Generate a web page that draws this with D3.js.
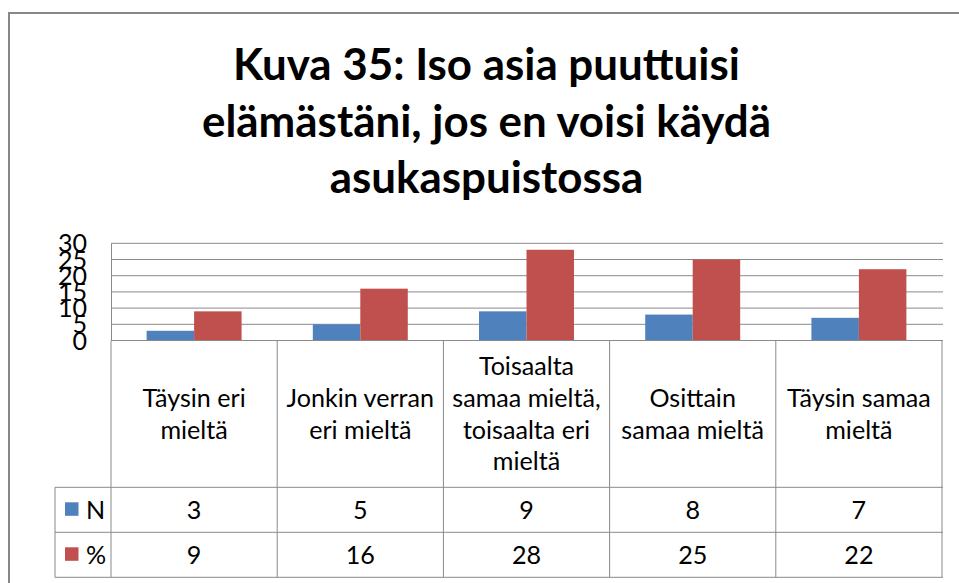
<!DOCTYPE html>
<html>
<head>
<meta charset="utf-8">
<script src="https://cdn.jsdelivr.net/npm/d3@7"></script>
<style>
  html, body { margin: 0; padding: 0; background: #fff; }
  svg { display: block; }
  text { font-family: Lato, "Noto Sans", sans-serif; fill: #000; }
</style>
</head>
<body>
<svg id="chart" width="959" height="583"></svg>
<script>
// ---- data ----
const titleLines = ["Kuva 35: Iso asia puuttuisi", "elämästäni, jos en voisi käydä", "asukaspuistossa"];
const categories = [
  "Täysin eri mieltä",
  "Jonkin verran eri mieltä",
  "Toisaalta samaa mieltä, toisaalta eri mieltä",
  "Osittain samaa mieltä",
  "Täysin samaa mieltä"
];
const categoryLines = [
  ["Täysin eri", "mieltä"],
  ["Jonkin verran", "eri mieltä"],
  ["Toisaalta", "samaa mieltä,", "toisaalta eri", "mieltä"],
  ["Osittain", "samaa mieltä"],
  ["Täysin samaa", "mieltä"]
];
const seriesNames = ["N", "%"];
const valuesN = [3, 5, 9, 8, 7];
const valuesPct = [9, 16, 28, 25, 22];
const yTicks = [0, 5, 10, 15, 20, 25, 30];
const seriesColors = ["#4F81BD", "#C0504D"];

const series = [valuesN, valuesPct];

// ---- layout ----
const svg = d3.select("#chart");
const gridColor = "#8a8a8a";
const plot = { left: 111, right: 942, top: 243.3, bottom: 340.5 };
const table = { labelLeft: 55, catBottom: 487.3, rowH: 45 };

// outer chart frame
svg.append("rect")
  .attr("x", 9).attr("y", 13).attr("width", 955).attr("height", 620)
  .attr("fill", "#fff").attr("stroke", "#878787").attr("stroke-width", 2);

// fit a font size so a reference string reaches a given width
function fitSize(sample, weight, baseSize, targetWidth) {
  const t = svg.append("text").attr("font-size", baseSize).attr("font-weight", weight).text(sample);
  const w = t.node().getComputedTextLength();
  t.remove();
  return baseSize * targetWidth / w;
}
const titleSize = fitSize(titleLines[0], "bold", 46.5, 507);
const bodySize = fitSize("samaa mieltä", "normal", 26, 142.7);

// ---- title ----
const title = svg.append("text")
  .attr("text-anchor", "middle")
  .attr("font-weight", "bold")
  .attr("font-size", titleSize);
title.selectAll("tspan").data(titleLines).join("tspan")
  .attr("x", 486.5)
  .attr("y", (d, i) => 80 + i * 56.7)
  .text(d => d);

// ---- scales ----
const x0 = d3.scaleBand().domain(categories).range([plot.left, plot.right]).padding(0);
const x1 = d3.scaleBand().domain(seriesNames).range([0, x0.bandwidth()]).paddingInner(0).paddingOuter(0.75);
const y = d3.scaleLinear().domain([0, 30]).range([plot.bottom, plot.top]);

// gridlines
svg.append("g").selectAll("line").data(yTicks.slice(1)).join("line")
  .attr("x1", plot.left).attr("x2", plot.right + 1)
  .attr("y1", d => y(d)).attr("y2", d => y(d))
  .attr("stroke", gridColor).attr("stroke-width", 1);

// value axis
const yAxis = d3.axisLeft(y).tickValues(yTicks).tickSize(0).tickPadding(24);
const yg = svg.append("g").attr("transform", `translate(${plot.left},0)`).call(yAxis);
yg.select(".domain").attr("stroke", gridColor);
yg.selectAll("text")
  .attr("font-family", "Lato, 'Noto Sans', sans-serif")
  .attr("font-size", bodySize)
  .attr("fill", "#000")
  .attr("dy", "0.34em");

// bars
svg.append("g").selectAll("g").data(categories).join("g")
  .attr("transform", d => `translate(${x0(d)},0)`)
  .selectAll("rect")
  .data((c, ci) => seriesNames.map((s, si) => ({ s, si, v: series[si][ci] })))
  .join("rect")
  .attr("x", d => x1(d.s))
  .attr("width", x1.bandwidth())
  .attr("y", d => y(d.v))
  .attr("height", d => y(0) - y(d.v))
  .attr("fill", d => seriesColors[d.si]);

// ---- data table ----
const rowTop = i => table.catBottom + i * table.rowH;
const tableBottom = rowTop(seriesNames.length);
const tg = svg.append("g").attr("stroke", gridColor).attr("stroke-width", 1);

// category axis line
tg.append("line").attr("x1", plot.left).attr("x2", plot.right + 1)
  .attr("y1", plot.bottom).attr("y2", plot.bottom);
// row lines
tg.selectAll("line.row").data(d3.range(seriesNames.length + 1)).join("line")
  .attr("class", "row")
  .attr("x1", table.labelLeft).attr("x2", plot.right + 1)
  .attr("y1", d => rowTop(d)).attr("y2", d => rowTop(d));
// column lines
const colEdges = categories.map(c => x0(c)).concat([plot.right]);
tg.selectAll("line.col").data(colEdges).join("line")
  .attr("class", "col")
  .attr("x1", d => d).attr("x2", d => d)
  .attr("y1", plot.bottom).attr("y2", tableBottom);
tg.append("line").attr("x1", table.labelLeft).attr("x2", table.labelLeft)
  .attr("y1", table.catBottom).attr("y2", tableBottom);

// category labels
const lineH = 31.7;
const catMid = (plot.bottom + table.catBottom) / 2 + 9;
const cl = svg.append("g").attr("font-size", bodySize).attr("text-anchor", "middle");
categories.forEach((c, i) => {
  const lines = categoryLines[i];
  const t = cl.append("text");
  t.selectAll("tspan").data(lines).join("tspan")
    .attr("x", x0(c) + x0.bandwidth() / 2)
    .attr("y", (d, j) => catMid + (j - (lines.length - 1) / 2) * lineH)
    .text(d => d);
});

// value rows with legend keys
seriesNames.forEach((s, si) => {
  const mid = rowTop(si) + table.rowH / 2;
  svg.append("rect")
    .attr("x", 65).attr("y", mid - 7.5).attr("width", 13.5).attr("height", 13.5)
    .attr("fill", seriesColors[si]);
  svg.append("text")
    .attr("x", 86).attr("y", mid + 9.5)
    .attr("font-size", bodySize)
    .text(s);
  svg.append("g").selectAll("text").data(categories).join("text")
    .attr("x", d => x0(d) + x0.bandwidth() / 2)
    .attr("y", mid + 9.5)
    .attr("text-anchor", "middle")
    .attr("font-size", bodySize)
    .text((d, ci) => series[si][ci]);
});
</script>
</body>
</html>
